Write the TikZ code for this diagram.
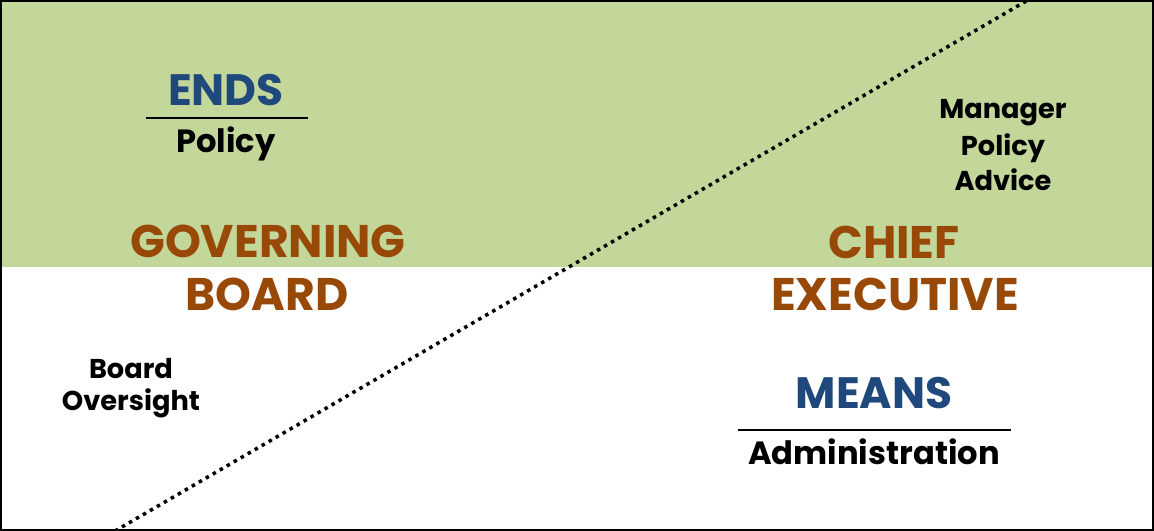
\documentclass[tikz,border=0pt]{standalone}
\usepackage{fontspec}
\setmainfont{Poppins}

\definecolor{endsgreen}{RGB}{196,215,155}
\definecolor{headblue}{RGB}{31,73,125}
\definecolor{rolebrown}{RGB}{152,72,7}

\tikzset{
  head/.style={anchor=base, text=headblue, font=\bfseries\fontsize{25}{28}\selectfont},
  role/.style={anchor=base, text=rolebrown, font=\bfseries\fontsize{26}{30}\selectfont},
  note/.style={anchor=base, font=\bfseries\fontsize{15.5}{18}\selectfont},
  rule/.style={line width=1.2pt},
}

\begin{document}
\begin{tikzpicture}[x=0.02cm, y=-0.02cm]
\useasboundingbox (0,0) rectangle (1154,531);
\fill [endsgreen] (0,0) rectangle (1153,267);
\draw [line width=1.2pt] (1,1) rectangle (1153,530);

% split between board and chief executive
\coordinate (low) at (115,531);
\coordinate (high) at (1028,0);
\draw [line width=2pt, dash pattern=on 2pt off 2.6pt] (low) -- (high);

% ends over policy
\node [head] (ends) at (226,105) {ENDS};
\coordinate (endsL) at (146,118);
\coordinate (endsR) at (308,118);
\draw [rule] (endsL) -- (endsR);
\node [note, font=\bfseries\fontsize{18.3}{20}\selectfont] (policy) at (226,152) {Policy};

% means over administration
\node [head] (means) at (874,408) {MEANS};
\coordinate (meansL) at (738,430);
\coordinate (meansR) at (1011,430);
\draw [rule] (meansL) -- (meansR);
\node [note, font=\bfseries\fontsize{18.3}{20}\selectfont] (admin) at (874,464) {Administration};

% the two roles
\node [role] (governing) at (268,257) {GOVERNING};
\node [role] (board) at (267,310) {BOARD};
\node [role] (chief) at (894,258) {CHIEF};
\node [role] (executive) at (895,310) {EXECUTIVE};

% side notes
\foreach \w/\y in {Manager/118, Policy/155, Advice/190}
  \node [note] (mgr-\w) at (1003,\y) {\w};
\foreach \w/\y in {Board/378, Oversight/410}
  \node [note] (ovs-\w) at (131,\y) {\w};
\end{tikzpicture}
\end{document}
